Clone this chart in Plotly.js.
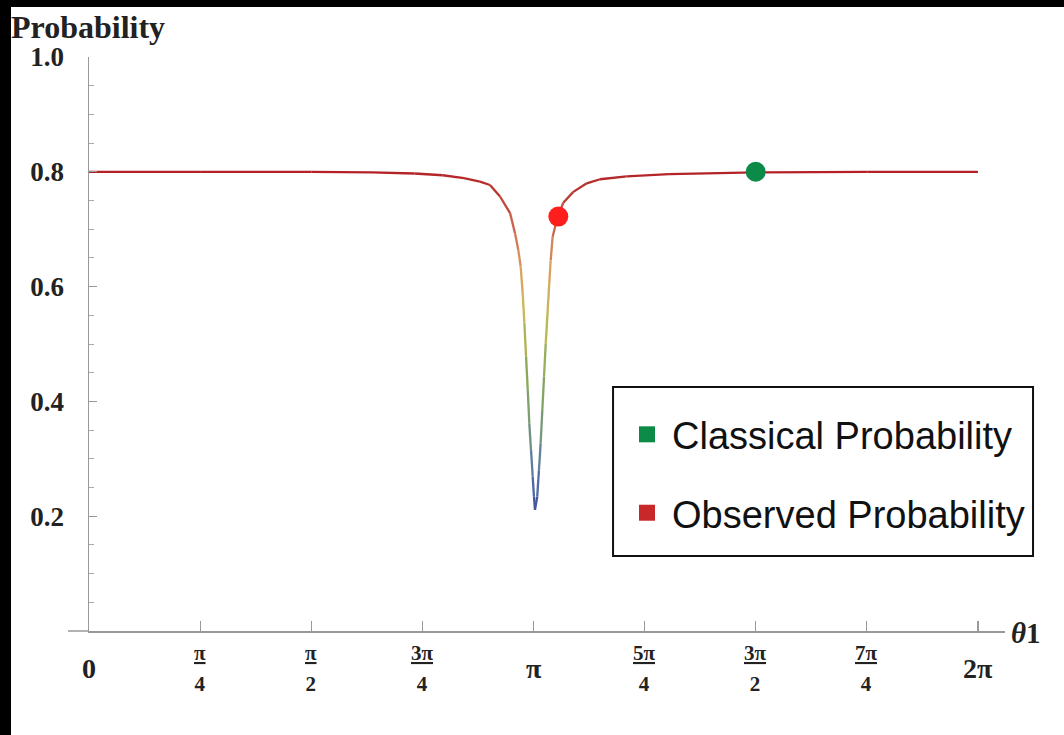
<!DOCTYPE html>
<html><head><meta charset="utf-8">
<script src="https://cdn.plot.ly/plotly-3.0.1.min.js"></script>
<style>
html,body{margin:0;padding:0;background:#000;width:1064px;height:735px;overflow:hidden}
#chart{position:absolute;left:11px;top:7px;width:1053px;height:728px;background:#fff}
</style></head><body><div id="chart"></div>
<script>
// Curve: probability vs theta1
const theta = [0, 0.785, 1.571, 2.0, 2.3, 2.5, 2.65, 2.763, 2.834, 2.905, 2.976, 3.011, 3.034, 3.051, 3.065, 3.077, 3.089, 3.101, 3.112, 3.124, 3.136, 3.145, 3.152,
  3.168, 3.180, 3.192, 3.204, 3.216, 3.228, 3.242, 3.253, 3.263, 3.277, 3.310, 3.352, 3.423, 3.518, 3.612, 3.8, 4.1, 4.712, 5.5, 6.283];
const prob = [0.800, 0.800, 0.800, 0.799, 0.797, 0.794, 0.789, 0.783, 0.777, 0.757, 0.728, 0.693, 0.664, 0.635, 0.589, 0.537, 0.478, 0.420, 0.362, 0.315, 0.269, 0.234, 0.211,
  0.234, 0.280, 0.327, 0.385, 0.443, 0.501, 0.559, 0.606, 0.646, 0.687, 0.720, 0.746, 0.765, 0.780, 0.787, 0.792, 0.796, 0.799, 0.800, 0.800];
const classicalTheta = [4.712];
const classicalProb = [0.800];
const observedTheta = [3.317];
const observedProb = [0.722];
const seriesNames = ['Classical Probability', 'Observed Probability'];
const xTickVals = [0, 0.7854, 1.5708, 2.3562, 3.1416, 3.9270, 4.7124, 5.4978, 6.2832];
const xTickText = ['0', 'π/4', 'π/2', '3π/4', 'π', '5π/4', '3π/2', '7π/4', '2π'];
const yTickVals = [0.2, 0.4, 0.6, 0.8, 1.0];
const yTickText = ['0.2', '0.4', '0.6', '0.8', '1.0'];

// colour function (style): value -> rainbow colour
const stops = [[0.20,[58,74,154]],[0.28,[90,120,168]],[0.36,[122,154,120]],[0.45,[138,170,90]],[0.55,[200,188,80]],[0.63,[220,160,96]],[0.70,[204,106,80]],[0.76,[184,58,48]],[0.80,[180,34,40]]];
function colorAt(v){
  if(v<=stops[0][0]) return 'rgb('+stops[0][1].join(',')+')';
  for(let i=1;i<stops.length;i++){
    if(v<=stops[i][0]){
      const a=stops[i-1],b=stops[i],t=(v-a[0])/(b[0]-a[0]);
      return 'rgb('+a[1].map((c,k)=>Math.round(c+(b[1][k]-c)*t)).join(',')+')';
    }
  }
  return 'rgb('+stops[stops.length-1][1].join(',')+')';
}

const traces = [];
for(let i=0;i<theta.length-1;i++){
  traces.push({x:[theta[i],theta[i+1]], y:[prob[i],prob[i+1]], mode:'lines', type:'scatter',
    line:{color:colorAt((prob[i]+prob[i+1])/2), width:2.3}, showlegend:false, hoverinfo:'skip'});
}
traces.push({x:classicalTheta, y:classicalProb, mode:'markers', type:'scatter', name:seriesNames[0],
  marker:{color:'#0b8a48', size:20}, showlegend:false});
traces.push({x:observedTheta, y:observedProb, mode:'markers', type:'scatter', name:seriesNames[1],
  marker:{color:'#ff1e1e', size:20}, showlegend:false});
// legend entries
traces.push({x:[null], y:[null], mode:'markers', type:'scatter', name:seriesNames[0], legendgroup:'a',
  marker:{color:'#0b8a48', size:16, symbol:'square'}});
traces.push({x:[null], y:[null], mode:'markers', type:'scatter', name:seriesNames[1], legendgroup:'b',
  marker:{color:'#c8282a', size:16, symbol:'square'}});

const serif = 'Liberation Serif, Times New Roman, serif';
const annotations = xTickVals.map((v,i)=>{
  const t = xTickText[i];
  let text, size;
  if(t.indexOf('/')>=0){
    const p=t.split('/');
    text='<span style="font-size:21px"><u>'+p[0]+'</u></span><br><span style="font-size:21px">'+p[1]+'</span>';
    size=24;
  } else { text=t; size=28; }
  return {x:v, xref:'x', y:0, yref:'paper', yshift:-37, yanchor:'middle', xanchor:'center',
    text:text, showarrow:false, font:{family:serif, size:size, color:'#222', weight:'bold'}};
});
annotations.push({x:0, xref:'paper', y:1, yref:'paper', xanchor:'left', yanchor:'middle', xshift:-80, yshift:30,
  text:'Probability', showarrow:false, font:{family:serif, size:32, color:'#222', weight:'bold'}});
annotations.push({x:1, xref:'paper', y:0, yref:'paper', xanchor:'left', yanchor:'middle', xshift:4, yshift:-2,
  text:'<i>θ</i>1', showarrow:false, font:{family:serif, size:29, color:'#222', weight:'bold'}});

const layout = {
  width:1053, height:728,
  margin:{l:78, r:59, t:50, b:104, pad:0},
  paper_bgcolor:'#fff', plot_bgcolor:'#fff',
  xaxis:{range:[0,6.474], showgrid:false, zeroline:false, showline:true, linecolor:'#999', linewidth:1.5,
    tickmode:'array', tickvals:xTickVals, ticks:'inside', ticklen:10, tickcolor:'#999', tickwidth:1.2,
    showticklabels:false, fixedrange:true},
  yaxis:{range:[0,1], showgrid:false, zeroline:false, showline:true, linecolor:'#999', linewidth:1.5,
    tickmode:'array', tickvals:yTickVals, ticktext:yTickText, ticks:'inside', ticklen:8, tickcolor:'#999', tickwidth:1.2,
    ticklabelstandoff:18,
    tickfont:{family:serif, size:27, color:'#222', weight:'bold'},
    minor:{dtick:0.05, tick0:0, ticks:'inside', ticklen:5, tickcolor:'#aaa', tickwidth:1},
    fixedrange:true},
  shapes:[
    {type:'line', xref:'paper', yref:'paper', x0:-0.023, x1:0, y0:0, y1:0, line:{color:'#999', width:1.5}},
    {type:'rect', xref:'paper', yref:'paper', x0:0.5721, x1:1.0306, y0:0.1307, y1:0.4251, fillcolor:'#fff', layer:'above', line:{color:'#111', width:2}}
  ],
  annotations:annotations,
  showlegend:true,
  legend:{x:0.5819, y:0.397, xanchor:'left', yanchor:'top', bgcolor:'rgba(0,0,0,0)', borderwidth:0,
    font:{family:'Liberation Sans, Arial, sans-serif', size:38, color:'#111'}, traceorder:'grouped', tracegroupgap:26,
    itemwidth:40},
  hovermode:false
};
Plotly.newPlot('chart', traces, layout, {displayModeBar:false, staticPlot:true});
</script></body></html>
